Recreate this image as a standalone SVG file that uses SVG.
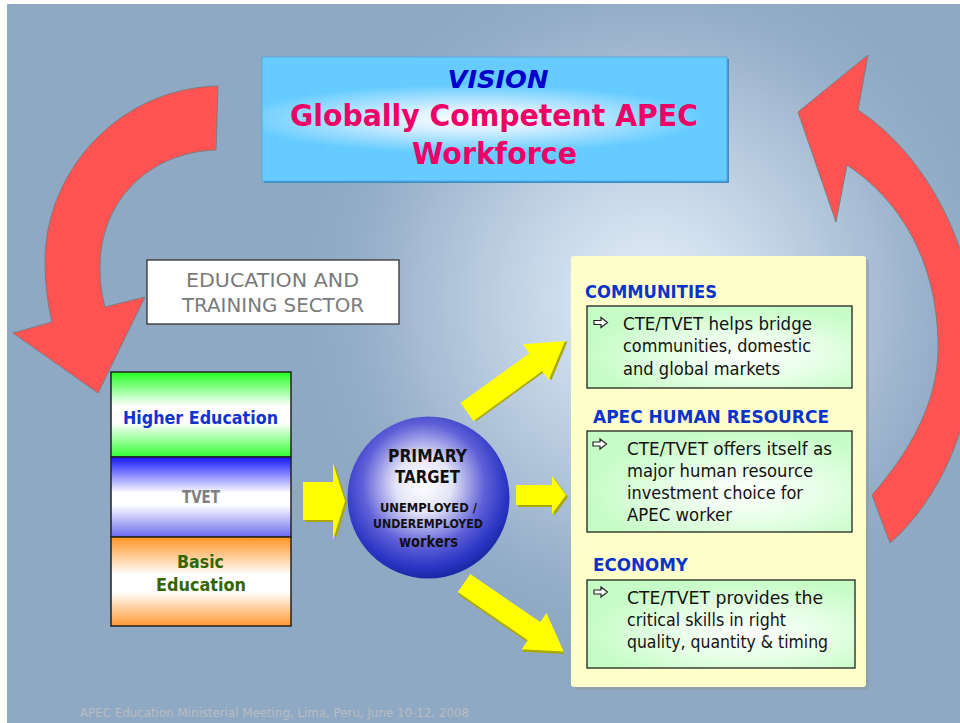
<svg xmlns="http://www.w3.org/2000/svg" width="960" height="723" viewBox="0 0 960 723">
  <defs>
    <radialGradient id="bgGlow" gradientUnits="userSpaceOnUse" cx="650" cy="300" r="360">
      <stop offset="0" stop-color="#e6eef7"/>
      <stop offset="0.3" stop-color="#c9d9ea"/>
      <stop offset="0.65" stop-color="#a6bcd3"/>
      <stop offset="1" stop-color="#8fa9c4" stop-opacity="0"/>
    </radialGradient>
    <radialGradient id="visionFill" cx="0.45" cy="0.5" r="0.5" gradientTransform="translate(0.45 0.5) scale(1 0.55) translate(-0.45 -0.5)">
      <stop offset="0" stop-color="#ffffff"/>
      <stop offset="0.35" stop-color="#d6efff"/>
      <stop offset="1" stop-color="#66ccff"/>
    </radialGradient>
    <linearGradient id="higherFill" x1="0" y1="0" x2="0" y2="1">
      <stop offset="0" stop-color="#22ff22"/>
      <stop offset="0.4" stop-color="#ffffff"/>
      <stop offset="0.6" stop-color="#ffffff"/>
      <stop offset="1" stop-color="#33ff33"/>
    </linearGradient>
    <linearGradient id="tvetFill" x1="0" y1="0" x2="0" y2="1">
      <stop offset="0" stop-color="#1515ff"/>
      <stop offset="0.45" stop-color="#ffffff"/>
      <stop offset="0.6" stop-color="#ffffff"/>
      <stop offset="1" stop-color="#6a6aee"/>
    </linearGradient>
    <linearGradient id="basicFill" x1="0" y1="0" x2="0" y2="1">
      <stop offset="0" stop-color="#ff9422"/>
      <stop offset="0.42" stop-color="#ffffff"/>
      <stop offset="0.62" stop-color="#ffffff"/>
      <stop offset="1" stop-color="#ff9933"/>
    </linearGradient>
    <radialGradient id="targetFill" cx="0.47" cy="0.42" r="0.58">
      <stop offset="0" stop-color="#ffffff"/>
      <stop offset="0.3" stop-color="#e4e4f8"/>
      <stop offset="0.65" stop-color="#6060d8"/>
      <stop offset="0.88" stop-color="#2b36c4"/>
      <stop offset="1" stop-color="#1a28a6"/>
    </radialGradient>
    <radialGradient id="noteFill" cx="0.6" cy="0.6" r="0.6">
      <stop offset="0" stop-color="#ffffff"/>
      <stop offset="0.5" stop-color="#e6ffe6"/>
      <stop offset="1" stop-color="#c6fcc6"/>
    </radialGradient>
    <style>
      .sans { font-family: "DejaVu Sans", "Liberation Sans", sans-serif; }
      .cycle { fill: #ff5252; stroke: #7d7d7d; stroke-width: 1; }
      .flow { fill: #ffff00; }
      .flow-shadow { fill: #a9a900; }
      .tier { stroke: #222222; stroke-width: 1.5; }
      .note { fill: url(#noteFill); stroke: #222222; stroke-width: 1.3; }
      .bullet { fill: #ffffff; stroke: #222222; stroke-width: 1.2; stroke-linejoin: miter; }
      .head { font-family: "DejaVu Sans", "Liberation Sans", sans-serif; font-weight: bold; font-size: 17.5px; fill: #0a33cc; }
      .body { font-family: "DejaVu Sans", "Liberation Sans", sans-serif; font-size: 17px; fill: #111111; }
    </style>
  </defs>

  <!-- slide background -->
  <rect x="0" y="0" width="960" height="723" fill="#ffffff"/>
  <rect x="7" y="4" width="953" height="719" fill="#8fa9c4"/>
  <rect x="7" y="4" width="953" height="719" fill="url(#bgGlow)"/>

  <g id="connectors">
    <!-- cycle arrow: vision down to the education sector -->
    <path class="cycle" d="M218,86 C120,88 45,170 45,262 C45,285 48,305 52,322 L13,333 L98,393 L145,297 L105,307 C101,292 100,280 100,267 C100,200 150,152 216,150 Z"/>
    <!-- cycle arrow: outcomes back up to the vision -->
    <path class="cycle" d="M858,110 C920,150 975,240 975,340 C975,420 940,500 890,543 L872,495 C920,440 940,390 938,340 C936,260 900,200 847,165 L836,222 L798,112 L868,55 Z"/>

    <!-- education stack to primary target -->
    <polygon class="flow-shadow" points="305,484 335,484 335,465 347,503 335,542 335,522 305,522"/>
    <polygon class="flow" points="303,482 333,482 333,463 345,501 333,540 333,520 303,520"/>

    <!-- primary target to communities -->
    <g transform="translate(467 412) rotate(-35.9)">
      <polygon class="flow-shadow" transform="translate(1.8 1.8)" points="0,-11 85,-11 85,-22 121,0 85,22 85,11 0,11"/>
      <polygon class="flow" points="0,-11 85,-11 85,-22 121,0 85,22 85,11 0,11"/>
    </g>

    <!-- primary target to APEC human resource -->
    <polygon class="flow-shadow" points="518,487 554,487 554,478 568,497 554,516 554,507 518,507"/>
    <polygon class="flow" points="516,485 552,485 552,476 566,495 552,514 552,505 516,505"/>

    <!-- primary target to economy -->
    <g transform="translate(464 583) rotate(34.5)">
      <polygon class="flow-shadow" transform="translate(1.8 1.8)" points="0,-11 85,-11 85,-22 121,0 85,22 85,11 0,11"/>
      <polygon class="flow" points="0,-11 85,-11 85,-22 121,0 85,22 85,11 0,11"/>
    </g>
  </g>

  <g id="vision">
    <rect x="264" y="59" width="465" height="124" fill="#3c8fc2"/>
    <rect x="262" y="57" width="465" height="124" fill="url(#visionFill)" stroke="#55aadd" stroke-width="1"/>
    <text class="sans" x="498" y="88" text-anchor="middle" font-size="24" font-weight="bold" font-style="italic" fill="#0000cc" textLength="101" lengthAdjust="spacingAndGlyphs">VISION</text>
    <text class="sans" x="494" y="126" text-anchor="middle" font-size="31" font-weight="bold" fill="#ee0066" textLength="408" lengthAdjust="spacingAndGlyphs">Globally Competent APEC</text>
    <text class="sans" x="494.5" y="164" text-anchor="middle" font-size="31" font-weight="bold" fill="#ee0066" textLength="165" lengthAdjust="spacingAndGlyphs">Workforce</text>
  </g>

  <g id="sector">
    <rect x="147" y="260" width="252" height="64" fill="#ffffff" stroke="#333333" stroke-width="1.3"/>
    <text class="sans" x="272.5" y="287" text-anchor="middle" font-size="20" fill="#7a7a7a" textLength="173" lengthAdjust="spacingAndGlyphs">EDUCATION AND</text>
    <text class="sans" x="273" y="312" text-anchor="middle" font-size="20" fill="#7a7a7a" textLength="182" lengthAdjust="spacingAndGlyphs">TRAINING SECTOR</text>
  </g>

  <g id="higher-education">
    <rect class="tier" x="111" y="372" width="180" height="85" fill="url(#higherFill)"/>
    <text class="sans" x="200.5" y="424" text-anchor="middle" font-size="18" font-weight="bold" fill="#1133cc" textLength="155" lengthAdjust="spacingAndGlyphs">Higher Education</text>
  </g>

  <g id="tvet">
    <rect class="tier" x="111" y="457" width="180" height="80" fill="url(#tvetFill)"/>
    <text class="sans" x="201" y="503" text-anchor="middle" font-size="18" font-weight="bold" fill="#7f7f7f" textLength="38" lengthAdjust="spacingAndGlyphs">TVET</text>
  </g>

  <g id="basic-education">
    <rect class="tier" x="111" y="537" width="180" height="89" fill="url(#basicFill)"/>
    <text class="sans" x="200.5" y="568" text-anchor="middle" font-size="18" font-weight="bold" fill="#336600" textLength="47" lengthAdjust="spacingAndGlyphs">Basic</text>
    <text class="sans" x="201" y="591" text-anchor="middle" font-size="18" font-weight="bold" fill="#336600" textLength="90" lengthAdjust="spacingAndGlyphs">Education</text>
  </g>

  <g id="primary-target">
    <circle cx="428.5" cy="497.5" r="81" fill="url(#targetFill)"/>
    <text class="sans" x="427.5" y="462" text-anchor="middle" font-size="17" font-weight="bold" fill="#111111" textLength="79" lengthAdjust="spacingAndGlyphs">PRIMARY</text>
    <text class="sans" x="427.5" y="483" text-anchor="middle" font-size="17" font-weight="bold" fill="#111111" textLength="65" lengthAdjust="spacingAndGlyphs">TARGET</text>
    <text class="sans" x="428.5" y="512" text-anchor="middle" font-size="12.5" font-weight="bold" fill="#111111" textLength="97" lengthAdjust="spacingAndGlyphs">UNEMPLOYED /</text>
    <text class="sans" x="428" y="528" text-anchor="middle" font-size="12.5" font-weight="bold" fill="#111111" textLength="110" lengthAdjust="spacingAndGlyphs">UNDEREMPLOYED</text>
    <text class="sans" x="428.5" y="547" text-anchor="middle" font-size="15" font-weight="bold" fill="#111111" textLength="59" lengthAdjust="spacingAndGlyphs">workers</text>
  </g>

  <g id="outcomes">
    <rect x="574" y="259" width="295" height="431" rx="3" fill="#8d9aa6" opacity="0.55"/>
    <rect x="571" y="256" width="295" height="431" rx="3" fill="#ffffcc"/>
  </g>

  <g id="communities">
    <text class="head" x="585" y="298" textLength="132" lengthAdjust="spacingAndGlyphs">COMMUNITIES</text>
    <rect class="note" x="587" y="306" width="265" height="82"/>
    <path class="bullet" d="M594,320.5 h7 v-3 l6.5,5 l-6.5,5 v-3 h-7 z"/>
    <text class="body" x="623" y="330" textLength="189" lengthAdjust="spacingAndGlyphs">CTE/TVET helps bridge</text>
    <text class="body" x="623" y="352" textLength="188" lengthAdjust="spacingAndGlyphs">communities, domestic</text>
    <text class="body" x="623" y="375" textLength="157" lengthAdjust="spacingAndGlyphs">and global markets</text>
  </g>

  <g id="human-resource">
    <text class="head" x="593" y="423" textLength="236" lengthAdjust="spacingAndGlyphs">APEC HUMAN RESOURCE</text>
    <rect class="note" x="587" y="431" width="265" height="101"/>
    <path class="bullet" d="M593,442 h7 v-3 l6.5,5 l-6.5,5 v-3 h-7 z"/>
    <text class="body" x="627" y="455" textLength="205" lengthAdjust="spacingAndGlyphs">CTE/TVET offers itself as</text>
    <text class="body" x="627" y="477" textLength="186" lengthAdjust="spacingAndGlyphs">major human resource</text>
    <text class="body" x="627" y="499" textLength="176" lengthAdjust="spacingAndGlyphs">investment choice for</text>
    <text class="body" x="627" y="521" textLength="105" lengthAdjust="spacingAndGlyphs">APEC worker</text>
  </g>

  <g id="economy">
    <text class="head" x="593" y="571" textLength="95" lengthAdjust="spacingAndGlyphs">ECONOMY</text>
    <rect class="note" x="587" y="580" width="268" height="88"/>
    <path class="bullet" d="M594,590 h7 v-3 l6.5,5 l-6.5,5 v-3 h-7 z"/>
    <text class="body" x="627" y="604" textLength="196" lengthAdjust="spacingAndGlyphs">CTE/TVET provides the</text>
    <text class="body" x="627" y="626" textLength="159" lengthAdjust="spacingAndGlyphs">critical skills in right</text>
    <text class="body" x="627" y="648" textLength="201" lengthAdjust="spacingAndGlyphs">quality, quantity &amp; timing</text>
  </g>

  <text class="sans" x="80" y="717" font-size="12.5" fill="#b9bcc2" textLength="389" lengthAdjust="spacingAndGlyphs">APEC Education Ministerial Meeting, Lima, Peru, June 10-12, 2008</text>
</svg>
